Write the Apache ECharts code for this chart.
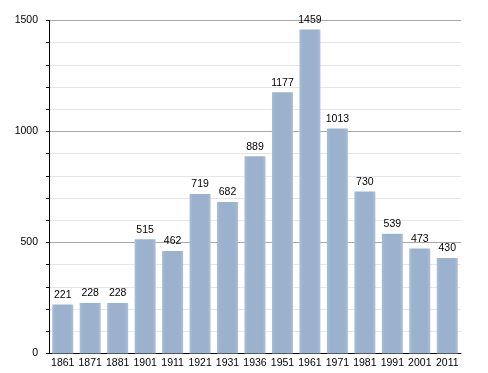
<!DOCTYPE html>
<html>
<head>
<meta charset="utf-8">
<script src="https://cdn.jsdelivr.net/npm/echarts@6/dist/echarts.min.js"></script>
<style>
html,body{margin:0;padding:0;background:#fff;}
#chart{width:488px;height:373px;}
</style>
</head>
<body>
<div id="chart"></div>
<script>
const categories = ['1861','1871','1881','1901','1911','1921','1931','1936','1951','1961','1971','1981','1991','2001','2011'];
const population = [221,228,228,515,462,719,682,889,1177,1459,1013,730,539,473,430];
const yTicks = [0,500,1000,1500];

const FONT = 'Liberation Sans, Arial, sans-serif';
const chart = echarts.init(document.getElementById('chart'), null, {renderer:'canvas'});
chart.setOption({
  animation:false,
  grid:{left:49, right:27, top:20.5, bottom:19.5, containLabel:false},
  xAxis:{
    type:'category',
    data:categories,
    axisLine:{lineStyle:{color:'#000', width:1}},
    axisTick:{show:false},
    axisLabel:{color:'#000', fontFamily:FONT, fontSize:10.5, margin:4, interval:0}
  },
  yAxis:{
    type:'value',
    min:yTicks[0], max:yTicks[yTicks.length-1], interval:500,
    axisLine:{show:true, lineStyle:{color:'#000', width:1}},
    axisTick:{show:true, length:3, lineStyle:{color:'#000'}},
    minorTick:{show:true, splitNumber:5, length:3, lineStyle:{color:'#000'}},
    axisLabel:{color:'#000', fontFamily:FONT, fontSize:10.5, margin:11, formatter:function(v){return String(v);}},
    splitLine:{show:true, lineStyle:{color:'#a8a8a8', width:1}},
    minorSplitLine:{show:true, lineStyle:{color:'#e6e6e6', width:1}}
  },
  series:[{
    type:'bar',
    data:population,
    barWidth:21,
    itemStyle:{
      color:{type:'linear', x:0, y:0, x2:1, y2:0, colorStops:[
        {offset:0, color:'#a9bdd6'},
        {offset:0.15, color:'#9bb2ce'},
        {offset:0.85, color:'#9bb2ce'},
        {offset:1, color:'#aebfd8'}
      ]}
    },
    label:{show:true, position:'top', distance:4, color:'#000', fontFamily:FONT, fontSize:10.5}
  }]
});
</script>
</body>
</html>
